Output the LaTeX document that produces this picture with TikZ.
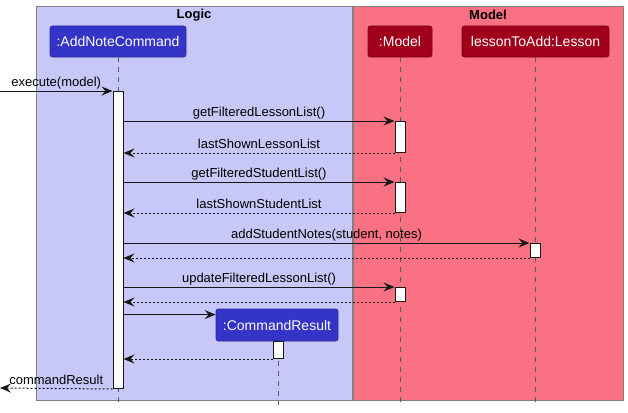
\documentclass[tikz,border=0pt]{standalone}
\usepackage{fontspec}
\setmainfont{Liberation Sans}
\usetikzlibrary{arrows.meta}
\definecolor{logicbg}{HTML}{C8C8F8}
\definecolor{modelbg}{HTML}{F97182}
\definecolor{pblue}{HTML}{3434C6}
\definecolor{pred}{HTML}{A0001A}
\definecolor{lineclr}{HTML}{181818}
\definecolor{grpline}{HTML}{808080}
\begin{document}
\begin{tikzpicture}[x=1pt,y=-1pt,
  group/.style={draw=grpline, line width=1pt, inner sep=0pt, anchor=north west},
  gtitle/.style={font=\fontsize{13pt}{15pt}\selectfont\bfseries, inner sep=0pt},
  part/.style={rounded corners=2.5pt, line width=0.8pt, text=white, inner sep=0pt,
    font=\fontsize{14pt}{16pt}\selectfont, minimum height=31pt},
  bluep/.style={part, fill=pblue, draw=pblue!80!black},
  redp/.style={part, fill=pred, draw=pred!80!black},
  life/.style={draw=black!65, line width=0.8pt, dash pattern=on 5pt off 5pt},
  act/.style={draw=lineclr, fill=white, line width=1pt, minimum width=10pt, inner sep=0pt, anchor=north},
  msg/.style={draw=lineclr, line width=1pt, -{Stealth[length=11pt,width=9pt,inset=4pt]}},
  ret/.style={draw=lineclr, line width=1pt, dash pattern=on 2pt off 2pt, -{Stealth[length=11pt,width=9pt,inset=4pt]}},
  lbl/.style={midway, anchor=base, yshift=4.5pt, inner sep=0pt, text=black, font=\fontsize{13pt}{15pt}\selectfont}
]
\useasboundingbox (0,0) rectangle (628,412);
\fill[white] (0,0) rectangle (628,412);
% groups
\node[group, fill=logicbg, minimum width=316pt, minimum height=394pt] (logic) at (36,6) {};
\node[group, fill=modelbg, minimum width=270pt, minimum height=394pt] (model) at (353,6) {};
\node[gtitle] (logict) at (194,15) {Logic};
\node[gtitle] (modelt) at (488,15) {Model};
% participants
\node[bluep, minimum width=136pt] (anc) at (118,41.5) {:AddNoteCommand};
\node[redp, minimum width=64pt] (mdl) at (400,41.5) {:Model};
\node[redp, minimum width=147pt] (les) at (535.5,41.5) {lessonToAdd:Lesson};
\node[bluep, minimum width=122pt, minimum height=32pt] (cr) at (277,325) {:CommandResult};
% lifeline ends
\coordinate (ancend) at (118,405);
\coordinate (mdlend) at (400,405);
\coordinate (lesend) at (535,405);
\coordinate (crend) at (278,405);
\draw[life] (anc.south) -- (ancend);
\draw[life] (mdl.south) -- (mdlend);
\draw[life] (les.south -| lesend) -- (lesend);
\draw[life] (cr.south -| crend) -- (crend);
% activations
\node[act, minimum height=297pt] (a1) at (118,91) {};
\node[act, minimum height=31pt] (m1) at (400,121) {};
\node[act, minimum height=30pt] (m2) at (400,182) {};
\node[act, minimum height=14pt] (l1) at (535,243) {};
\node[act, minimum height=14pt] (m3) at (400,287) {};
\node[act, minimum height=17pt] (c1) at (278,341) {};
% free ends
\coordinate (in) at (0,91);
\coordinate (out) at (0,388);
\coordinate (crin) at ([yshift=-6pt]cr.north west);
% messages
\draw[msg] (in) -- (a1.north west) node[lbl]{execute(model)};
\draw[msg] (a1.east |- m1.north west) -- (m1.north west) node[lbl]{getFilteredLessonList()};
\draw[ret] (m1.south west) -- (a1.east |- m1.south west) node[lbl]{lastShownLessonList};
\draw[msg] (a1.east |- m2.north west) -- (m2.north west) node[lbl]{getFilteredStudentList()};
\draw[ret] (m2.south west) -- (a1.east |- m2.south west) node[lbl]{lastShownStudentList};
\draw[msg] (a1.east |- l1.north west) -- (l1.north west) node[lbl]{addStudentNotes(student, notes)};
\draw[ret] (l1.south west) -- (a1.east |- l1.south west);
\draw[msg] (a1.east |- m3.north west) -- (m3.north west) node[lbl]{updateFilteredLessonList()};
\draw[ret] (m3.south west) -- (a1.east |- m3.south west);
\draw[msg] (a1.east |- crin) -- (crin);
\draw[ret] (c1.south west) -- (a1.east |- c1.south west);
\draw[ret] (a1.south west) -- (out) node[lbl]{commandResult};
\end{tikzpicture}
\end{document}
